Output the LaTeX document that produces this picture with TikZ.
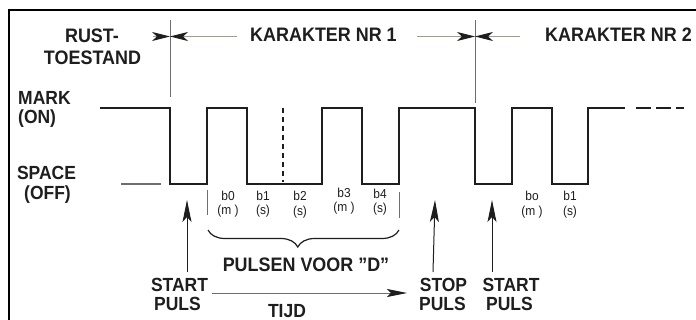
\documentclass[tikz,border=0pt]{standalone}
\usepackage{fontspec}
\setmainfont{Liberation Sans}[FakeStretch=0.92]
\usetikzlibrary{arrows.meta,decorations.pathreplacing}
\definecolor{ink}{RGB}{30,30,30}
\definecolor{tanline}{RGB}{165,155,135}
\definecolor{guidegray}{RGB}{110,110,110}
\tikzset{
  big/.style={font=\bfseries\fontsize{19.5}{20}\selectfont, inner sep=0pt, anchor=base, text=ink},
  mid/.style={font=\bfseries\fontsize{19}{20}\selectfont, inner sep=0pt, anchor=base, text=ink},
  bitlbl/.style={font=\fontsize{13}{14}\selectfont, inner sep=0pt, anchor=base, text=ink},
  wave/.style={line width=1.5pt, draw=ink, line join=miter},
  guide/.style={line width=0.9pt, draw=guidegray},
  tanarrow/.style={line width=0.9pt, draw=tanline},
  bowtip/.style={-{Stealth[length=18pt,width=9pt,inset=5pt,fill=ink,color=ink]}},
  uparrow/.style={line width=1pt, draw=ink, -{Stealth[length=22pt,width=9pt,inset=5pt]}},
  frameline/.style={line width=2.2pt, draw=black},
}
\begin{document}
\begin{tikzpicture}[x=1pt,y=-1pt]
\useasboundingbox (0,0) rectangle (696,320);
\fill[white] (0,0) rectangle (696,320);
% frame
\draw[frameline] (9,10) -- (696,10);
\draw[frameline] (9,9) -- (9,320);

% header texts
\node[big] (rust) at (92,43) {RUST-};
\node[big] (toestand) at (92.5,65) {TOESTAND};
\node[big] (kar1) at (323.5,42) {KARAKTER NR 1};
\node[big] (kar2) at (618.5,42) {KARAKTER NR 2};

% level labels
\node[mid, anchor=base west] (mark) at (18,104.5) {MARK};
\node[mid, anchor=base west] (on) at (18,124) {(ON)};
\node[mid] (space) at (46.5,179.5) {SPACE};
\node[mid] (off) at (47.5,199.5) {(OFF)};

% character boundary markers
\coordinate (m1top) at (170,20);
\coordinate (m1bot) at (170,97);
\coordinate (m2top) at (475,20);
\coordinate (m2bot) at (475,103);
\draw[guide] (m1top) -- (m1bot);
\draw[guide] (m2top) -- (m2bot);

\coordinate (a1l) at (153,36.5);
\coordinate (a1m) at (170,36.5);
\coordinate (a1r) at (237,36.5);
\coordinate (a2l) at (417,36.5);
\coordinate (a2m) at (475,36.5);
\coordinate (a2r) at (520,36.5);
\draw[tanarrow, bowtip] (a1l) -- (a1m);
\draw[tanarrow, bowtip] (a1r) -- (a1m);
\draw[tanarrow, bowtip] (a2l) -- (a2m);
\draw[tanarrow, bowtip] (a2r) -- (a2m);

% waveform
\draw[wave] (100,108) -- (170,108) -- (170,184) -- (207,184) -- (207,108)
  -- (247,108) -- (247,184) -- (322,184) -- (322,108) -- (362,108)
  -- (362,184) -- (399,184) -- (399,108) -- (475,108) -- (475,184)
  -- (512,184) -- (512,108) -- (552,108) -- (552,184) -- (588,184)
  -- (588,108) -- (625,108);
\draw[wave, dash pattern=on 15pt off 5pt] (636,108) -- (684,108);
\draw[line width=1.1pt, draw=guidegray] (121,184) -- (161,184);
\draw[line width=1.1pt, draw=ink, dash pattern=on 5pt off 4pt] (283,108) -- (283,182);

% bit labels
\node[bitlbl] (b0) at (228,201) {b0};
\node[bitlbl] (b0m) at (228,215) {(m )};
\node[bitlbl] (b1) at (263,201) {b1};
\node[bitlbl] (b1s) at (263,215) {(s)};
\node[bitlbl] (b2) at (300,201) {b2};
\node[bitlbl] (b2s) at (300,216) {(s)};
\node[bitlbl] (b3) at (344,198) {b3};
\node[bitlbl] (b3m) at (344,212) {(m )};
\node[bitlbl] (b4) at (380,199) {b4};
\node[bitlbl] (b4s) at (380,213) {(s)};
\node[bitlbl] (c0) at (532,201) {bo};
\node[bitlbl] (c0m) at (532,216) {(m )};
\node[bitlbl] (c1) at (570,201) {b1};
\node[bitlbl] (c1s) at (570,216) {(s)};

% ticks and brace
\coordinate (tl1) at (207,190);
\coordinate (tl2) at (207,215);
\coordinate (tr1) at (399,192);
\coordinate (tr2) at (399,218);
\draw[guide, line width=0.8pt] (tl1) -- (tl2);
\draw[guide, line width=0.8pt] (tr1) -- (tr2);
\coordinate (brl) at (208,230);
\coordinate (brr) at (399,230);
\draw[line width=1.2pt, draw=ink, decorate,
  decoration={brace, mirror, amplitude=17pt, aspect=0.47}] (brl) -- (brr);
\node[big] (pulsen) at (306,272) {PULSEN VOOR \symbol{34}D\symbol{34}};

% bottom labels
\node[mid] (start1) at (179.5,292) {START};
\node[mid] (puls1) at (177.5,310) {PULS};
\node[mid] (stop) at (443.5,292) {STOP};
\node[mid] (puls2) at (442.5,310) {PULS};
\node[mid] (start2) at (511,292) {START};
\node[mid] (puls3) at (509.5,310) {PULS};
\node[mid] (tijd) at (287,317) {TIJD};

% arrows
\coordinate (s1b) at (187,272);
\coordinate (s1t) at (187,200);
\coordinate (stb) at (433,272);
\coordinate (stt) at (435,200);
\coordinate (s2b) at (492,272);
\coordinate (s2t) at (492,200);
\draw[uparrow] (s1b) -- (s1t);
\draw[uparrow] (stb) -- (stt);
\draw[uparrow] (s2b) -- (s2t);
\coordinate (tl) at (212,293);
\coordinate (tr) at (407,293);
\draw[line width=0.9pt, draw=guidegray, -{Stealth[length=20pt,width=8pt,inset=4pt,color=ink]}] (tl) -- (tr);
\end{tikzpicture}
\end{document}
